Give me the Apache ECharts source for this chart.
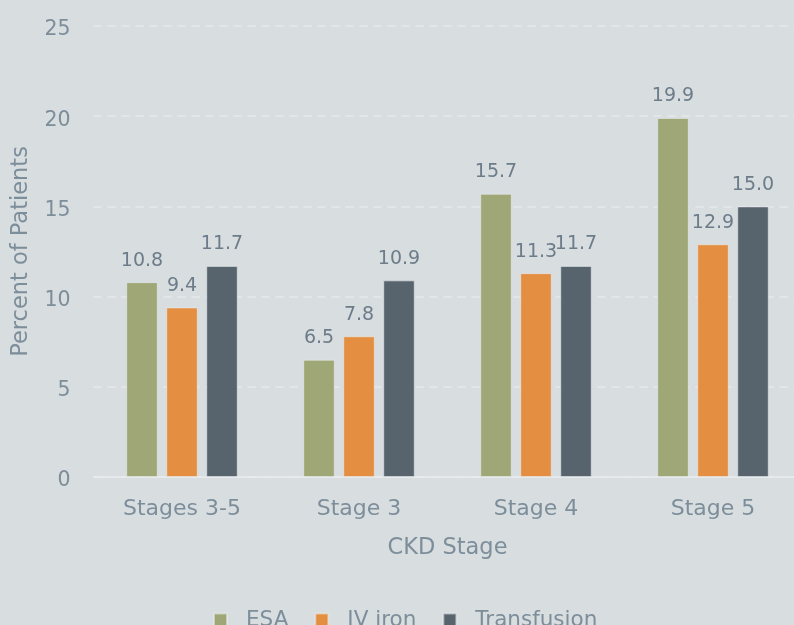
<!DOCTYPE html>
<html>
<head>
<meta charset="utf-8">
<script src="https://cdn.jsdelivr.net/npm/echarts@6/dist/echarts.min.js"></script>
<style>
html,body{margin:0;padding:0;background:#d8dde0;overflow:hidden;width:794px;height:625px;}
#c{width:812px;height:625px;}
</style>
</head>
<body>
<div id="c"></div>
<script>
var categories = ['Stages 3-5', 'Stage 3', 'Stage 4', 'Stage 5'];
var esa = [10.8, 6.5, 15.7, 19.9];
var ivIron = [9.4, 7.8, 11.3, 12.9];
var transfusion = [11.7, 10.9, 11.7, 15.0];
var seriesNames = ['ESA', 'IV iron', 'Transfusion'];

var FONT = 'DejaVu Sans';
var TXT = '#7d8e9b';
var LBL = '#6c7c89';
var chart = echarts.init(document.getElementById('c'));

function mk(name, data, color) {
  return {
    name: name, type: 'bar', data: data,
    barGap: '27%', barCategoryGap: '37%',
    itemStyle: { color: color, borderColor: 'rgba(235,238,240,0.55)', borderWidth: 1 },
    label: {
      show: true, position: 'top', distance: 12,
      color: LBL, fontFamily: FONT, fontSize: 19,
      formatter: function (p) { return p.value.toFixed(1); }
    }
  };
}

chart.setOption({
  backgroundColor: '#d8dde0',
  animation: false,
  textStyle: { fontFamily: FONT },
  grid: { left: 93.5, right: 10.5, top: 26, bottom: 148, containLabel: false },
  legend: {
    data: seriesNames, left: 208, top: 604,
    itemWidth: 13, itemHeight: 13, itemGap: 26,
    icon: 'rect',
    textStyle: { color: TXT, fontFamily: FONT, fontSize: 21.5, padding: [0, 0, 0, 14] }
  },
  xAxis: {
    type: 'category', data: categories,
    name: 'CKD Stage', nameLocation: 'middle', nameGap: 60,
    nameTextStyle: { color: TXT, fontFamily: FONT, fontSize: 22.5 },
    axisLine: { lineStyle: { color: '#eaedef', width: 1.5 } },
    axisTick: { show: false },
    axisLabel: { color: TXT, fontFamily: FONT, fontSize: 22, margin: 21 }
  },
  yAxis: {
    type: 'value', min: 0, max: 25, interval: 5,
    name: 'Percent of Patients', nameLocation: 'middle', nameGap: 61,
    nameTextStyle: { color: TXT, fontFamily: FONT, fontSize: 22.5 },
    axisLine: { show: false }, axisTick: { show: false },
    axisLabel: {
      color: TXT, fontFamily: FONT, fontSize: 20.5, margin: 23,
      formatter: function (v) { return '{v|' + v + '}'; },
      rich: { v: { color: TXT, fontFamily: FONT, fontSize: 20.5, padding: [8, 0, 0, 0] } }
    },
    splitLine: { lineStyle: { color: '#e6e9eb', width: 1.5, type: [8, 6] } }
  },
  series: [
    mk(seriesNames[0], esa, '#9ea775'),
    mk(seriesNames[1], ivIron, '#e38e40'),
    mk(seriesNames[2], transfusion, '#57646e')
  ]
});
</script>
</body>
</html>
